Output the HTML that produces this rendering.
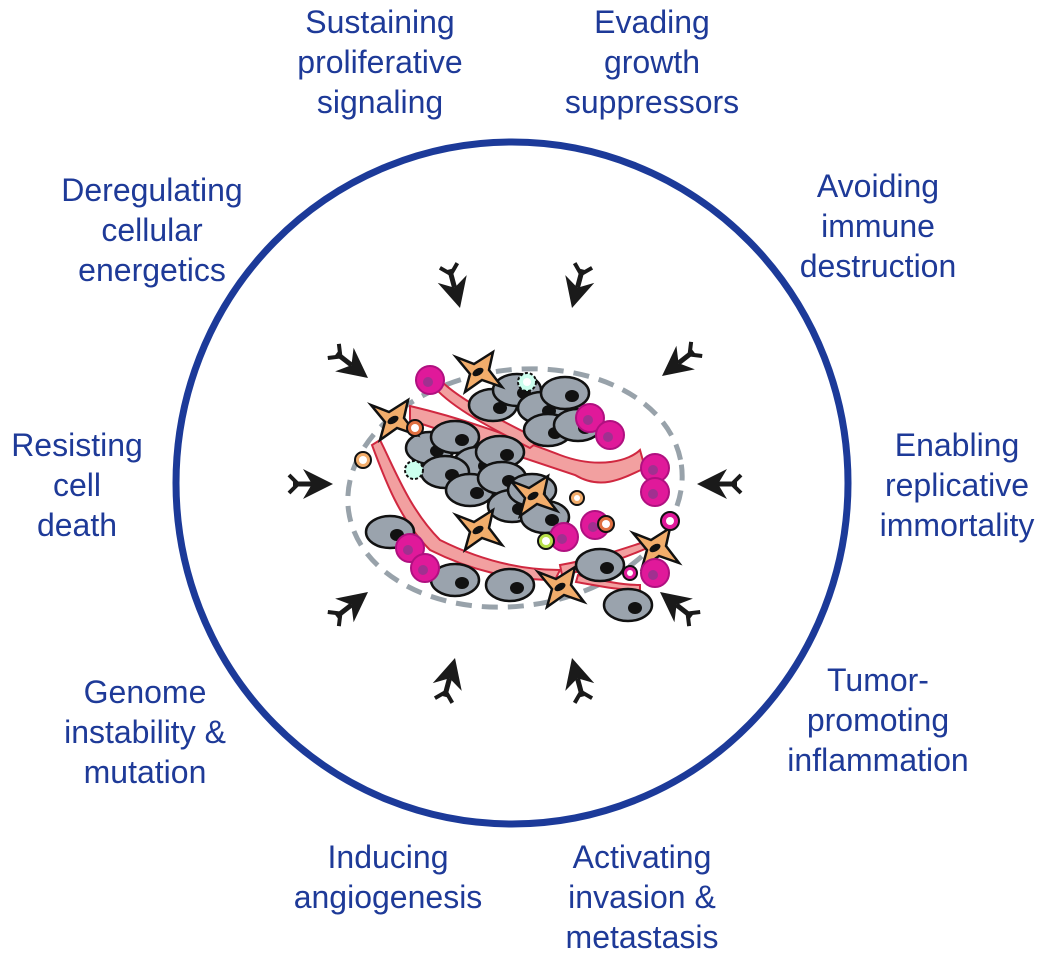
<!DOCTYPE html>
<html><head><meta charset="utf-8"><style>
html,body{margin:0;padding:0;background:#fff}
#c{position:relative;width:1044px;height:954px;overflow:hidden;font-family:"Liberation Sans",sans-serif}
.t{position:absolute;color:#1e3a98;font-size:32px;line-height:40px;text-align:center;width:300px;white-space:nowrap}
svg{position:absolute;left:0;top:0}
</style></head><body><div id="c">
<svg width="1044" height="954" viewBox="0 0 1044 954">
<defs>
<g id="ar"><path d="M0 0 L-30 -15 L-21 0 L-30 15 Z" fill="#1a1a1a"/><line x1="-21" y1="0" x2="-40" y2="0" stroke="#1a1a1a" stroke-width="5"/><path d="M-44 -9 L-35 0 L-44 9" fill="none" stroke="#1a1a1a" stroke-width="4"/></g>
<g id="gc"><ellipse rx="24" ry="16" fill="#9aa3ad" stroke="#111" stroke-width="2.5"/><ellipse cx="7" cy="3" rx="7" ry="6" fill="#111"/></g>
<g id="st"><path d="M-22 -15 L-4 -8 L15 -20 L11 -2 L24 15 L4 8 L-13 20 L-8 2 Z" fill="#f2ad6b" stroke="#111" stroke-width="2.5"/><ellipse rx="6" ry="3.5" fill="#111" transform="rotate(-30)"/></g>
<g id="mg"><circle r="14" fill="#e0199a" stroke="#b01080" stroke-width="2"/><circle cx="-2" cy="2" r="5" fill="#a03090"/></g>
</defs>
<ellipse cx="512" cy="483" rx="336" ry="341" fill="none" stroke="#1c3a99" stroke-width="7"/>
<ellipse cx="515" cy="488" rx="168" ry="118" transform="rotate(-8 515 488)" fill="none" stroke="#98a2aa" stroke-width="5" stroke-dasharray="16 10"/>
<path d="M410 406 C470 420 520 440 560 455 C600 470 630 460 640 450 L645 468 C620 480 600 490 575 475 C530 460 470 440 410 420 Z" fill="#f2a0a0" stroke="#d02840" stroke-width="2"/>
<path d="M440 380 C460 400 500 420 540 440 L530 448 C495 430 455 410 435 388 Z" fill="#f2a0a0" stroke="#d02840" stroke-width="2"/>
<path d="M380 440 C395 470 410 510 440 540 C480 560 520 570 560 570 L555 580 C510 580 470 570 430 550 C400 520 385 480 372 445 Z" fill="#f2a0a0" stroke="#d02840" stroke-width="2"/>
<path d="M560 565 C590 560 620 550 650 540 L652 546 C620 560 590 570 562 575 Z" fill="#f2a0a0" stroke="#d02840" stroke-width="2"/>
<path d="M578 575 C600 580 620 585 640 585 L640 590 C615 590 595 585 576 582 Z" fill="#f2a0a0" stroke="#d02840" stroke-width="2"/>
<use href="#gc" x="493" y="405"/><use href="#gc" x="517" y="390"/><use href="#gc" x="542" y="408"/><use href="#gc" x="565" y="393"/><use href="#gc" x="548" y="430"/><use href="#gc" x="578" y="425"/>
<use href="#gc" x="430" y="448"/><use href="#gc" x="455" y="437"/><use href="#gc" x="478" y="463"/><use href="#gc" x="500" y="452"/>
<use href="#gc" x="445" y="472"/><use href="#gc" x="470" y="490"/><use href="#gc" x="502" y="478"/><use href="#gc" x="512" y="506"/><use href="#gc" x="532" y="490"/><use href="#gc" x="545" y="517"/>
<use href="#gc" x="390" y="532"/><use href="#gc" x="455" y="580"/><use href="#gc" x="510" y="585"/><use href="#gc" x="600" y="565"/><use href="#gc" x="628" y="605"/>
<use href="#st" x="393" y="420"/><use href="#st" x="478" y="530"/><use href="#st" x="533" y="496"/><use href="#st" x="560" y="587"/><use href="#st" x="655" y="548"/><use href="#st" x="478" y="372"/>
<use href="#mg" x="430" y="380"/><use href="#mg" x="590" y="418"/><use href="#mg" x="610" y="435"/><use href="#mg" x="655" y="468"/><use href="#mg" x="655" y="492"/><use href="#mg" x="564" y="537"/><use href="#mg" x="595" y="525"/><use href="#mg" x="410" y="548"/><use href="#mg" x="425" y="568"/><use href="#mg" x="655" y="573"/>
<circle cx="415" cy="428" r="8" fill="#e07040" stroke="#111" stroke-width="2"/><circle cx="415" cy="428" r="4" fill="#fff"/>
<circle cx="363" cy="460" r="8" fill="#f2ad6b" stroke="#111" stroke-width="2"/><circle cx="363" cy="460" r="4" fill="#fff"/>
<circle cx="527" cy="382" r="9" fill="#cfe" stroke="#111" stroke-width="2" stroke-dasharray="3 2"/><circle cx="527" cy="382" r="4" fill="#fff"/>
<circle cx="414" cy="470" r="9" fill="#cfe" stroke="#111" stroke-width="2" stroke-dasharray="3 2"/>
<circle cx="546" cy="541" r="8" fill="#b7e04a" stroke="#111" stroke-width="2"/><circle cx="546" cy="541" r="4" fill="#fff"/>
<circle cx="606" cy="524" r="8" fill="#e07040" stroke="#111" stroke-width="2"/><circle cx="606" cy="524" r="4" fill="#fff"/>
<circle cx="670" cy="521" r="9" fill="#e0199a" stroke="#111" stroke-width="2"/><circle cx="670" cy="521" r="4" fill="#fff"/>
<circle cx="630" cy="573" r="7" fill="#e0199a" stroke="#111" stroke-width="2"/><circle cx="630" cy="573" r="3" fill="#fff"/>
<circle cx="577" cy="498" r="7" fill="#f2ad6b" stroke="#111" stroke-width="2"/><circle cx="577" cy="498" r="3" fill="#fff"/>
<use href="#ar" transform="translate(460 308) rotate(75)"/>
<use href="#ar" transform="translate(572 308) rotate(105)"/>
<use href="#ar" transform="translate(368 378) rotate(38)"/>
<use href="#ar" transform="translate(662 376) rotate(142)"/>
<use href="#ar" transform="translate(333 484) rotate(0)"/>
<use href="#ar" transform="translate(697 484) rotate(180)"/>
<use href="#ar" transform="translate(368 592) rotate(-38)"/>
<use href="#ar" transform="translate(660 592) rotate(-142)"/>
<use href="#ar" transform="translate(455 658) rotate(-75)"/>
<use href="#ar" transform="translate(572 658) rotate(-105)"/>
</svg>
<div class="t" style="left:230px;top:2px">Sustaining<br>proliferative<br>signaling</div>
<div class="t" style="left:502px;top:2px">Evading<br>growth<br>suppressors</div>
<div class="t" style="left:2px;top:170px">Deregulating<br>cellular<br>energetics</div>
<div class="t" style="left:728px;top:166px">Avoiding<br>immune<br>destruction</div>
<div class="t" style="left:-73px;top:425px">Resisting<br>cell<br>death</div>
<div class="t" style="left:807px;top:425px">Enabling<br>replicative<br>immortality</div>
<div class="t" style="left:-5px;top:672px">Genome<br>instability &amp;<br>mutation</div>
<div class="t" style="left:728px;top:660px">Tumor-<br>promoting<br>inflammation</div>
<div class="t" style="left:238px;top:837px">Inducing<br>angiogenesis</div>
<div class="t" style="left:492px;top:837px">Activating<br>invasion &amp;<br>metastasis</div>
</div></body></html>
